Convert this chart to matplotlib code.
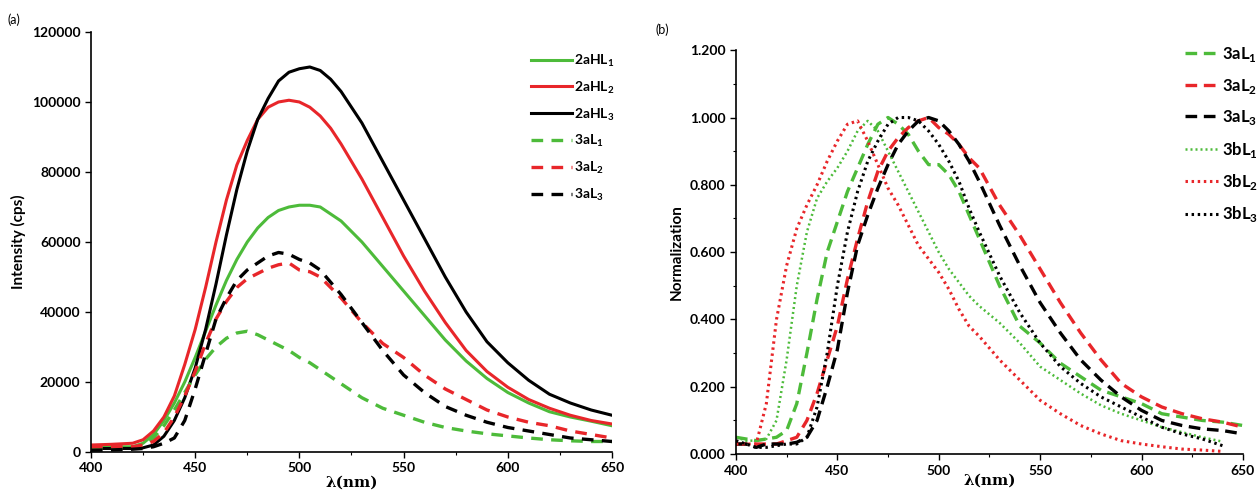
import numpy as np
import matplotlib.pyplot as plt
from matplotlib.ticker import MultipleLocator, FormatStrFormatter

plt.rcParams['font.family'] = ['Lato', 'DejaVu Sans']
plt.rcParams['font.weight'] = 'bold'
plt.rcParams['mathtext.fontset'] = 'custom'
plt.rcParams['mathtext.bf'] = 'Lato:bold'
plt.rcParams['mathtext.rm'] = 'Lato:bold'

# (a) emission intensity, cps
wl_a = [400, 410, 420, 425, 430, 435, 440, 445, 450, 455, 460, 465, 470, 475, 480, 485,
        490, 495, 500, 505, 510, 515, 520, 530, 540, 550, 560, 570, 580, 590, 600, 610,
        620, 630, 640, 650]
hl1 = [1500, 1500, 1500, 2500, 5000, 9000, 14000, 20000, 27000, 34500, 42000, 49000, 55000,
       60000, 64000, 67000, 69000, 70000, 70500, 70500, 70000, 68000, 66000, 60000, 53000,
       46000, 39000, 32000, 26000, 21000, 17000, 14000, 11500, 10000, 8800, 7500]
hl2 = [2000, 2200, 2500, 3500, 6000, 10000, 16000, 25000, 35000, 47000, 60000, 72000, 82000,
       89000, 95000, 98500, 100000, 100500, 100000, 98500, 96000, 92500, 88000, 78000, 67000,
       56000, 46000, 37000, 29000, 23000, 18500, 15000, 12500, 10500, 9000, 8000]
hl3 = [1000, 1000, 1000, 1200, 2000, 4500, 9000, 15500, 24000, 35000, 48000, 62000, 75000,
       86000, 95000, 101000, 106000, 108500, 109500, 110000, 109000, 106500, 103000, 94000,
       83000, 72000, 61000, 50000, 40000, 31500, 25500, 20500, 16500, 14000, 12000, 10500]
al1 = [1000, 1100, 1200, 2000, 4000, 7500, 12000, 17000, 22000, 26500, 30000, 32500, 34000,
       34500, 33500, 32000, 30500, 29000, 27000, 25500, 23500, 21500, 19500, 15500, 12500,
       10500, 8500, 7000, 6000, 5200, 4600, 4000, 3500, 3200, 3000, 3000]
al2 = [1500, 1500, 1500, 2000, 3000, 5500, 10000, 16000, 23000, 31000, 38000, 43000, 47000,
       49500, 51000, 52500, 53500, 54000, 52000, 51500, 50000, 47000, 44000, 37000, 31000,
       27000, 22000, 18000, 15000, 12000, 10000, 8500, 7500, 6000, 5000, 4000]
al3 = [500, 600, 800, 1000, 1500, 2500, 4000, 9000, 18000, 28000, 38000, 44000, 49000,
       52000, 54000, 56000, 57000, 56500, 55000, 54000, 52000, 48500, 45000, 37000, 29000,
       22000, 17000, 13000, 10500, 8500, 7000, 6000, 5000, 4000, 3500, 3000]

# (b) normalised spectra
wl_b = [400, 405, 410, 415, 420, 425, 430, 435, 440, 445, 450, 455, 460, 465, 470, 475,
        480, 485, 490, 495, 500, 505, 510, 515, 520, 530, 540, 550, 560, 570, 580, 590,
        600, 610, 620, 630, 640, 650]
n_al1 = [.05, .045, .04, .045, .05, .07, .15, .30, .46, .60, .69, .78, .85, .92, .98, 1.0,
         .98, .95, .90, .86, .86, .83, .78, .71, .64, .50, .38, .33, .27, .23, .19, .17,
         .15, .12, .11, .10, .095, .085]
n_al2 = [.03, .03, .03, .03, .03, .04, .05, .10, .18, .28, .38, .52, .64, .75, .84, .90,
         .94, .97, .99, 1.0, .97, .95, .92, .88, .85, .74, .65, .55, .45, .36, .28, .21,
         .17, .14, .12, .105, .095, .08]
n_al3 = [.03, .03, .02, .03, .03, .03, .035, .05, .10, .20, .31, .48, .62, .71, .79, .86,
         .92, .96, .99, 1.0, .99, .96, .92, .87, .81, .68, .56, .45, .36, .28, .22, .17,
         .13, .10, .085, .075, .07, .06]
n_bl1 = [.05, .04, .04, .045, .10, .28, .50, .66, .76, .81, .85, .90, .96, .99, .96, .90,
         .84, .78, .72, .66, .60, .55, .51, .47, .44, .39, .33, .26, .22, .18, .145, .12,
         .10, .08, .065, .05, .037, np.nan]
n_bl2 = [.03, .03, .03, .15, .40, .56, .67, .74, .80, .87, .93, .98, .99, .93, .86, .79,
         .74, .68, .62, .58, .54, .49, .43, .38, .35, .28, .22, .16, .12, .085, .06, .04,
         .03, .022, .015, .012, .008, np.nan]
n_bl3 = [.04, .03, .02, .02, .025, .03, .03, .05, .14, .30, .50, .66, .78, .87, .93, .98,
         1.0, 1.0, .99, .96, .92, .87, .81, .73, .66, .53, .42, .33, .26, .21, .17, .14,
         .11, .08, .06, .045, .025, np.nan]

green = '#4dbb3a'
red = '#e8262a'
black = '#000000'

fig = plt.figure(figsize=(12.58, 4.92), dpi=100)
ax1 = fig.add_axes([0.0723, 0.0813, 0.4142, 0.8537])
ax2 = fig.add_axes([0.585, 0.077, 0.403, 0.821])

dash_a = (0, (3.5, 2.5))
ax1.plot(wl_a, hl1, color=green, lw=2.2, label=r'2aHL$_\mathbf{1}$')
ax1.plot(wl_a, hl2, color=red, lw=2.2, label=r'2aHL$_\mathbf{2}$')
ax1.plot(wl_a, hl3, color=black, lw=2.2, label=r'2aHL$_\mathbf{3}$')
ax1.plot(wl_a, al1, color=green, lw=2.4, ls=dash_a, label=r'3aL$_\mathbf{1}$')
ax1.plot(wl_a, al2, color=red, lw=2.4, ls=dash_a, label=r'3aL$_\mathbf{2}$')
ax1.plot(wl_a, al3, color=black, lw=2.4, ls=dash_a, label=r'3aL$_\mathbf{3}$')

ax1.set_xlim(400, 650)
ax1.set_ylim(0, 120000)
ax1.xaxis.set_major_locator(MultipleLocator(50))
ax1.xaxis.set_minor_locator(MultipleLocator(25))
ax1.yaxis.set_major_locator(MultipleLocator(20000))
ax1.set_ylabel('Intensity (cps)', fontsize=11, fontweight='bold')
ax1.set_xlabel('λ(nm)', fontsize=11, fontweight='bold', family='DejaVu Serif', labelpad=1)
ax1.legend(loc='upper left', bbox_to_anchor=(518 / 1258, 1 - 40 / 492),
           bbox_transform=fig.transFigure, frameon=False, fontsize=10,
           handlelength=3.0, handletextpad=0.1, labelspacing=0.75)

dash_b = (0, (3.5, 2))
dot_b = (0, (0.8, 1.2))
ax2.plot(wl_b, n_al1, color=green, lw=2.4, ls=dash_b, label=r'3aL$_\mathbf{1}$')
ax2.plot(wl_b, n_al2, color=red, lw=2.4, ls=dash_b, label=r'3aL$_\mathbf{2}$')
ax2.plot(wl_b, n_al3, color=black, lw=2.4, ls=dash_b, label=r'3aL$_\mathbf{3}$')
ax2.plot(wl_b, n_bl1, color=green, lw=1.8, ls=dot_b, label=r'3bL$_\mathbf{1}$')
ax2.plot(wl_b, n_bl2, color=red, lw=2.2, ls=dot_b, label=r'3bL$_\mathbf{2}$')
ax2.plot(wl_b, n_bl3, color=black, lw=2.2, ls=dot_b, label=r'3bL$_\mathbf{3}$')

ax2.set_xlim(400, 650)
ax2.set_ylim(0, 1.2)
ax2.xaxis.set_major_locator(MultipleLocator(50))
ax2.xaxis.set_minor_locator(MultipleLocator(25))
ax2.yaxis.set_major_locator(MultipleLocator(0.2))
ax2.yaxis.set_minor_locator(MultipleLocator(0.1))
ax2.yaxis.set_major_formatter(FormatStrFormatter('%.3f'))
ax2.set_ylabel('Normalization', fontsize=11, fontweight='bold')
ax2.set_xlabel('λ(nm)', fontsize=11, fontweight='bold', family='DejaVu Serif', labelpad=-2)
ax2.legend(loc='upper left', bbox_to_anchor=(1170 / 1258, 1 - 30 / 492),
           bbox_transform=fig.transFigure, frameon=False, fontsize=12,
           handlelength=2.0, handletextpad=0.2, labelspacing=0.75)

for ax in (ax1, ax2):
    ax.spines['top'].set_visible(False)
    ax.spines['right'].set_visible(False)
    ax.spines['left'].set_linewidth(1.2)
    ax.spines['bottom'].set_linewidth(1.2)
    ax.tick_params(which='major', direction='out', length=4, width=1, labelsize=10)
    ax.tick_params(which='minor', direction='out', length=2.5, width=0.8)
    for lab in ax.get_xticklabels() + ax.get_yticklabels():
        lab.set_fontweight('bold')

fig.text(8 / 1258, 1 - 20 / 492, '(a)', fontsize=9, fontweight='normal', va='center')
fig.text(655 / 1258, 1 - 30 / 492, '(b)', fontsize=9, fontweight='normal', va='center')

fig.savefig('out.png', dpi=100)
